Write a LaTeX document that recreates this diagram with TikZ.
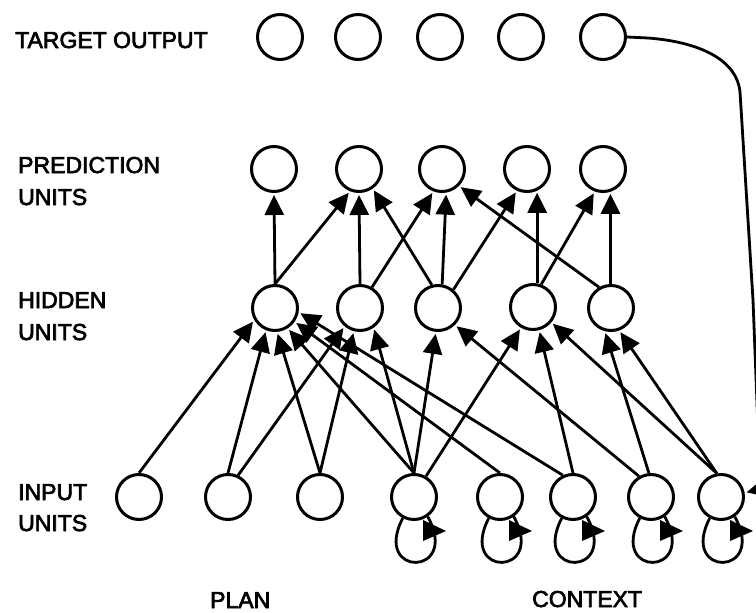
\documentclass[tikz,border=0pt]{standalone}
\usepackage{fontspec}
\setmainfont{Liberation Sans}
\newfontfamily\lblfont{Liberation Sans}[FakeBold=3]
\usetikzlibrary{arrows.meta,calc}
\begin{document}
\begin{tikzpicture}[x=1pt,y=-1pt,
  unit/.style={circle,draw,line width=3pt,minimum size=45pt,inner sep=0pt},
  conn/.style={line width=2.8pt,-{Triangle[length=20pt,width=19pt]},shorten >=2pt},
  feed/.style={line width=2.8pt,line join=round},
  loopline/.style={line width=2.8pt},
  lbl/.style={anchor=base west,inner sep=0pt,font=\lblfont\fontsize{23}{23}\selectfont}]
\useasboundingbox (0,0) rectangle (756,613);
% labels
\node[lbl] (ltarget) at (15,48) {TARGET OUTPUT};
\node[lbl] (lpred1) at (18,173) {PREDICTION};
\node[lbl] (lpred2) at (18,205) {UNITS};
\node[lbl] (lhid1) at (18,308) {HIDDEN};
\node[lbl] (lhid2) at (18,340) {UNITS};
\node[lbl] (lin1) at (18,500) {INPUT};
\node[lbl] (lin2) at (18,531) {UNITS};
\node[lbl] (lplan) at (210,608) {PLAN};
\node[lbl] (lctx) at (532,607) {CONTEXT};
% target output
\node[unit] (T1) at (280,37) {};
\node[unit] (T2) at (358,37) {};
\node[unit] (T3) at (440,37) {};
\node[unit] (T4) at (521,37) {};
\node[unit] (T5) at (603,37) {};
% prediction
\node[unit] (P1) at (274,169) {};
\node[unit] (P2) at (359,169) {};
\node[unit] (P3) at (442,169) {};
\node[unit] (P4) at (527,169) {};
\node[unit] (P5) at (603,169) {};
% hidden
\node[unit] (H1) at (275,308) {};
\node[unit] (H2) at (360,308) {};
\node[unit] (H3) at (438,308) {};
\node[unit] (H4) at (533,307) {};
\node[unit] (H5) at (611,308) {};
% input
\node[unit] (I1) at (139,497) {};
\node[unit] (I2) at (228,497) {};
\node[unit] (I3) at (320,497) {};
\node[unit] (I4) at (414,497) {};
\node[unit] (I5) at (500,497) {};
\node[unit] (I6) at (573,497) {};
\node[unit] (I7) at (651,497) {};
\node[unit] (I8) at (721,497) {};
% hidden -> prediction
\draw[conn] (H1.north) -- (P1.south);
\draw[conn] (H1.north) -- (P2.-112);
\draw[conn] (H2.north) -- (P2.south);
\draw[conn] (H2.60) -- (P3.-111);
\draw[conn] (H3.80) -- (P3.-80);
\draw[conn] (H3.105) -- (P2.-55);
\draw[conn] (H3.50) -- (P4.-115);
\draw[conn] (P4.-65 |- H4.north) -- (P4.-65);
\draw[conn] (H4.70) -- (P5.-110);
\draw[conn] (P5.-72 |- H5.north) -- (P5.-72);
\draw[conn] (H5.120) -- (P3.-45);
% input -> hidden
\draw[conn] (I1.north) -- (H1.-150);
\draw[conn] (I2.north) -- (H1.-112);
\draw[conn] (I2.65) -- (H2.-130);
\draw[conn] (I3.north) -- (H1.-85);
\draw[conn] (I3.north) -- (H2.-105);
\draw[conn] (I4.north) -- (H1.-58);
\draw[conn] (I4.north) -- (H2.-55);
\draw[conn] (I4.north) -- (H3.-95);
\draw[conn] (I4.60) -- (H4.-120);
\draw[conn] (I5.north) -- (H1.-35);
\draw[conn] (I6.115) -- (H1.-10);
\draw[conn] (I6.north) -- (H4.-75);
\draw[conn] (I7.120) -- (H3.-45);
\draw[conn] (I7.95) -- (H5.-105);
\draw[conn] (I8.100) -- (H4.-40);
\draw[conn] (I8.100) -- (H5.-70);
% self loops on context units
\foreach \n in {I4,I5,I6,I7,I8}{
  \draw[loopline] (\n.-118) .. controls +(-31,60) and +(33,60) .. (\n.-55);
  \fill ($(\n)+(9,23)$) -- ($(\n)+(9,44)$) -- ($(\n)+(32,34)$) -- cycle;
}
% target feedback to context
\coordinate (fb1) at (648,38);
\coordinate (fb2) at (740,92);
\coordinate (fb3) at (753,300);
\coordinate (fb4) at (760,480);
\draw[feed] (T5.east) -- (fb1) .. controls (700,42) and (737,60) .. (fb2) -- (fb3) -- (fb4);
\draw[conn] (fb4) -- ++(4,8) -- (I8.10);
\end{tikzpicture}
\end{document}
